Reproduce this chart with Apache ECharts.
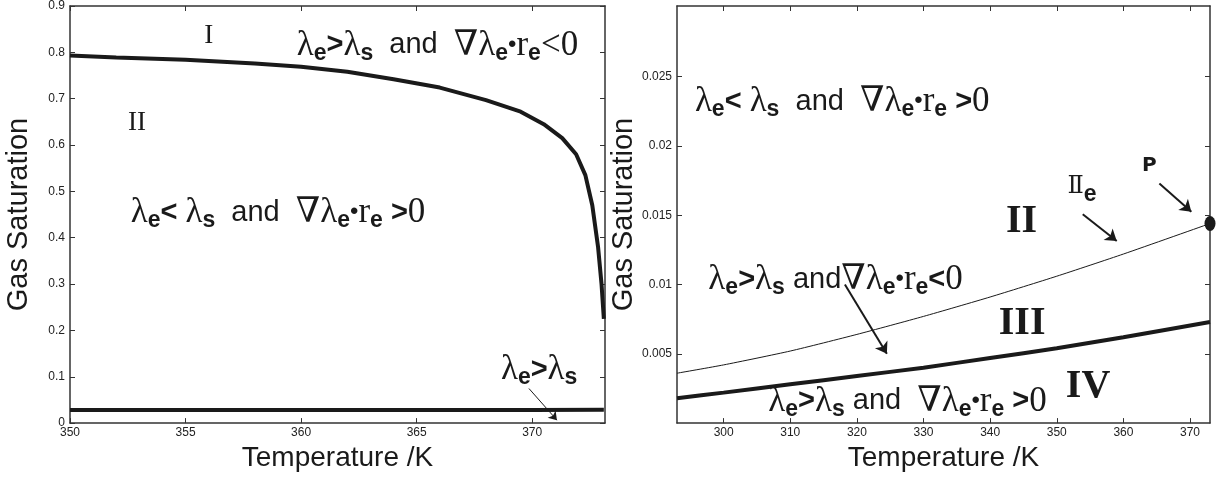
<!DOCTYPE html>
<html>
<head>
<meta charset="utf-8">
<script src="https://cdn.jsdelivr.net/npm/echarts@6/dist/echarts.min.js"></script>
<style>
  html, body { margin: 0; padding: 0; background: #fff; }
  #main { width: 1222px; height: 477px; }
</style>
</head>
<body>
<div id="main"></div>
<script>
// left panel: saturation boundary curve (upper) and lower line
var leftTemp = [350, 352, 355, 358, 360, 362, 364, 366, 368, 369.5, 370.5, 371.3, 371.9, 372.3, 372.6, 372.85, 373.0, 373.1];
var leftSat = [0.793, 0.789, 0.784, 0.776, 0.769, 0.758, 0.742, 0.724, 0.697, 0.672, 0.645, 0.615, 0.580, 0.535, 0.47, 0.38, 0.30, 0.225];
var leftLowTemp = [350, 360, 370, 373.1];
var leftLowSat = [0.028, 0.0282, 0.0285, 0.0286];

// right panel: thin curve (IIe) and thick curve
var rightTemp = [293, 300, 310, 320, 330, 340, 350, 360, 373];
var rightThin = [0.0036, 0.0042, 0.0052, 0.0064, 0.0077, 0.0091, 0.0106, 0.0122, 0.0144];
var rightThick = [0.0018, 0.0022, 0.0028, 0.0034, 0.0040, 0.0047, 0.0054, 0.0062, 0.0073];

// tick labels
var leftXTicks = [350, 355, 360, 365, 370];
var rightXTicks = [300, 310, 320, 330, 340, 350, 360, 370];
var rightYTicks = [0.005, 0.01, 0.015, 0.02, 0.025];

function pairs(xs, ys) {
  return xs.map(function (x, i) { return [x, ys[i]]; });
}

var chart = echarts.init(document.getElementById("main"), null, { renderer: "canvas" });

var ink = "#1a1a1a";
var axisCol = "#333";
var serif = "Liberation Serif, DejaVu Serif, serif";
var sans = "Liberation Sans, Arial, sans-serif";

var rich = {
  l: { fontFamily: serif, fontSize: 35, color: ink },
  s: { fontFamily: sans, fontWeight: "bold", fontSize: 23, color: ink, padding: [16, 0, 0, 0] },
  g: { fontFamily: sans, fontWeight: "bold", fontSize: 29, color: ink },
  a: { fontFamily: sans, fontSize: 29, color: ink },
  b: { fontFamily: sans, fontSize: 24, color: ink },
  rn: { fontFamily: serif, fontSize: 27, color: ink },
  bn: { fontFamily: serif, fontWeight: "bold", fontSize: 40, color: ink },
  dd: { fontFamily: "DejaVu Serif", fontSize: 24, color: ink },
  p: { fontFamily: "DejaVu Sans", fontWeight: "bold", fontSize: 20, color: ink }
};

function note(coord, text) {
  return {
    coord: coord,
    symbol: "circle",
    symbolSize: 0,
    label: { show: true, position: "inside", formatter: text, rich: rich }
  };
}

function arrow(from, to) {
  return [{ coord: from }, { coord: to }];
}

var txtGtLt = "{l|λ}{s|e}{g|>}{l|λ}{s|s}{a|  and  }{l|∇λ}{s|e}{b|•}{l|r}{s|e}{l|<0}";
var txtLtGt = "{l|λ}{s|e}{g|< }{l|λ}{s|s}{a|  and  }{l|∇λ}{s|e}{b|•}{l|r}{s|e}{g| >}{l|0}";
var txtGtGt = "{l|λ}{s|e}{g|>}{l|λ}{s|s}{a| and  }{l|∇λ}{s|e}{b|•}{l|r}{s|e}{g| >}{l|0}";
var txtMid = "{l|λ}{s|e}{g|>}{l|λ}{s|s}{a| and}{l|∇λ}{s|e}{b|•}{l|r}{s|e}{g|<}{l|0}";

function xAx(gridIndex, min, max, ticks, top) {
  return {
    type: "value", gridIndex: gridIndex, min: min, max: max,
    position: top ? "top" : "bottom",
    axisLine: { show: true, onZero: false, lineStyle: { color: axisCol, width: 1.5 } },
    axisTick: { show: true, inside: true, length: 5, customValues: ticks, lineStyle: { color: axisCol } },
    axisLabel: { show: !top, customValues: ticks, margin: 4, fontSize: 12, fontFamily: sans, color: "#222" },
    splitLine: { show: false },
    name: top ? "" : "Temperature /K",
    nameLocation: "middle",
    nameGap: 14,
    nameTextStyle: { fontSize: 28, fontFamily: sans, color: ink, verticalAlign: "top" }
  };
}

function yAx(gridIndex, min, max, interval, ticks, right, fmt) {
  var ax = {
    type: "value", gridIndex: gridIndex, min: min, max: max,
    position: right ? "right" : "left",
    axisLine: { show: true, onZero: false, lineStyle: { color: axisCol, width: 1.5 } },
    axisTick: { show: true, inside: true, length: 5, lineStyle: { color: axisCol } },
    axisLabel: { show: !right, margin: 5, fontSize: 12, fontFamily: sans, color: "#222" },
    splitLine: { show: false },
    name: right ? "" : "Gas Saturation",
    nameLocation: "middle",
    nameGap: 37,
    nameTextStyle: { fontSize: 29, fontFamily: sans, color: ink }
  };
  if (interval) ax.interval = interval;
  if (ticks) {
    ax.axisTick.customValues = ticks;
    ax.axisLabel.customValues = ticks;
  }
  if (fmt) ax.axisLabel.formatter = fmt;
  return ax;
}

var fmtSmall = function (v) { return String(+v.toFixed(3)); };

var option = {
  animation: false,
  backgroundColor: "#fff",
  grid: [
    { left: 70, right: 617, top: 6, bottom: 50 },
    { left: 677, right: 12, top: 6, bottom: 50 }
  ],
  xAxis: [
    xAx(0, 350, 373.15, leftXTicks, false),
    xAx(0, 350, 373.15, leftXTicks, true),
    xAx(1, 293, 373, rightXTicks, false),
    xAx(1, 293, 373, rightXTicks, true)
  ],
  yAxis: [
    yAx(0, 0, 0.9, 0.1, null, false),
    yAx(0, 0, 0.9, 0.1, null, true),
    yAx(1, 0, 0.0301, null, rightYTicks, false, fmtSmall),
    yAx(1, 0, 0.0301, null, rightYTicks, true, fmtSmall)
  ],
  series: [
    {
      type: "line", xAxisIndex: 0, yAxisIndex: 0,
      data: pairs(leftTemp, leftSat),
      showSymbol: false, lineStyle: { color: ink, width: 4 }
    },
    {
      type: "line", xAxisIndex: 0, yAxisIndex: 0,
      data: pairs(leftLowTemp, leftLowSat),
      showSymbol: false, lineStyle: { color: ink, width: 4 },
      markPoint: {
        silent: true,
        data: [
          note([356.0, 0.836], "{rn|I}"),
          note([352.9, 0.648], "{rn|II}"),
          note([365.9, 0.815], txtGtLt),
          note([359.0, 0.454], txtLtGt),
          note([370.3, 0.115], "{l|λ}{s|e}{g|>}{l|λ}{s|s}")
        ]
      },
      markLine: {
        silent: true, symbol: ["none", "arrow"], symbolSize: 8,
        label: { show: false },
        lineStyle: { color: ink, width: 1, type: "solid" },
        data: [arrow([369.86, 0.0746], [371.07, 0.0064])]
      }
    },
    {
      type: "line", xAxisIndex: 2, yAxisIndex: 2,
      data: pairs(rightTemp, rightThin),
      smooth: 0.2,
      showSymbol: false, lineStyle: { color: ink, width: 1 },
      markPoint: {
        silent: true,
        data: [
          { coord: [373, 0.0144], symbol: "circle", symbolSize: [11, 15], itemStyle: { color: ink } },
          note([363.9, 0.01857], "{p|P}"),
          note([353.8, 0.01707], "{dd|Ⅱ}{s|e}"),
          note([344.7, 0.01457], "{bn|II}"),
          note([344.8, 0.00721], "{bn|III}"),
          note([354.7, 0.00264], "{bn|IV}")
        ]
      }
    },
    {
      type: "line", xAxisIndex: 2, yAxisIndex: 2,
      data: pairs(rightTemp, rightThick),
      smooth: 0.2,
      showSymbol: false, lineStyle: { color: ink, width: 4 },
      markPoint: {
        silent: true,
        data: [
          note([317.8, 0.0232], txtLtGt),
          note([316.8, 0.01036], txtMid),
          note([327.6, 0.00157], txtGtGt)
        ]
      },
      markLine: {
        silent: true, symbol: ["none", "arrow"], symbolSize: 11,
        label: { show: false },
        lineStyle: { color: ink, width: 2, type: "solid" },
        data: [
          arrow([318.2, 0.0100], [324.5, 0.0050]),
          arrow([353.9, 0.01507], [359.0, 0.01314]),
          arrow([365.4, 0.01729], [370.2, 0.01526])
        ]
      }
    }
  ]
};

chart.setOption(option);
</script>
</body>
</html>
